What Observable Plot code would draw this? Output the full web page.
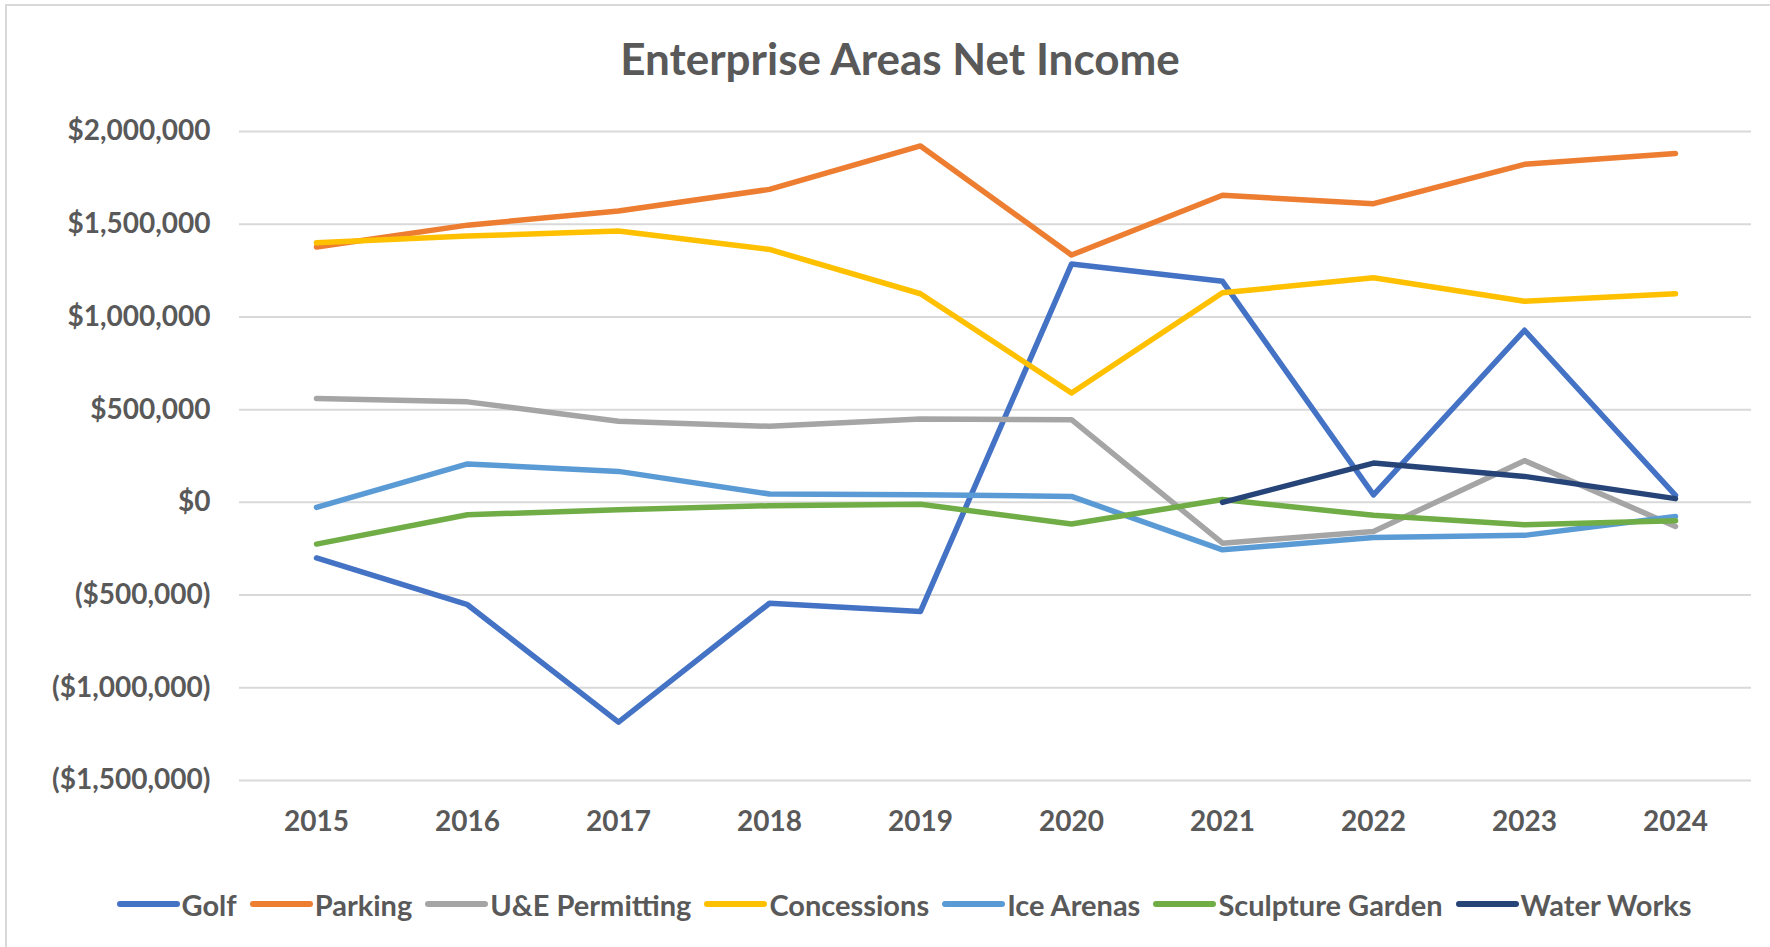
<!DOCTYPE html>
<html>
<head>
<meta charset="utf-8">
<script src="https://cdn.jsdelivr.net/npm/d3@7"></script>
<script src="https://cdn.jsdelivr.net/npm/@observablehq/plot@0.6"></script>
<style>
  html, body { margin:0; padding:0; background:#fff; width:1770px; height:947px; overflow:hidden; }
  body { position:relative; font-family: Lato, "Open Sans", sans-serif; color:#595959; }
  #frame { position:absolute; left:5px; top:4px; width:1800px; height:960px; border:2px solid #d9d9d9; box-sizing:border-box; }
  #title { position:absolute; left:0; top:34px; width:1800px; text-align:center; font-size:44px; font-weight:bold; line-height:48px; }
  #chart { position:absolute; left:0; top:100px; }
  #legend { position:absolute; left:0; top:888px; width:1808px; height:32px; display:flex; justify-content:center; align-items:center; font-size:29px; font-weight:bold; }
  .item { display:flex; align-items:center; margin-right:13px; }
  .item:last-child { margin-right:0; }
  .sw { width:63px; height:6px; border-radius:3px; margin-right:2px; }
</style>
</head>
<body>
<div id="frame"></div>
<div id="title">Enterprise Areas Net Income</div>
<div id="chart"></div>
<div id="legend"></div>
<script>
const years = ["2015","2016","2017","2018","2019","2020","2021","2022","2023","2024"];
const seriesNames = ["Golf","Parking","U&E Permitting","Concessions","Ice Arenas","Sculpture Garden","Water Works"];
const seriesColors = ["#4472C4","#ED7D31","#A5A5A5","#FFC000","#5B9BD5","#70AD47","#264478"];
const golf = [-300000, -552000, -1185000, -544000, -588000, 1285000, 1192000, 40000, 928000, 38000];
const parking = [1377000, 1495000, 1571000, 1688000, 1922000, 1334000, 1656000, 1611000, 1823000, 1881000];
const uePermitting = [560000, 542000, 437000, 410000, 450000, 446000, -220000, -157000, 225000, -130000];
const concessions = [1400000, 1436000, 1463000, 1364000, 1125000, 590000, 1130000, 1211000, 1085000, 1125000];
const iceArenas = [-27000, 207000, 167000, 45000, 41000, 32000, -256000, -189000, -178000, -76000];
const sculptureGarden = [-225000, -67000, -40000, -18000, -10000, -117000, 15000, -70000, -121000, -99000];
const waterWorks = [null, null, null, null, null, null, 0, 212000, 140000, 20000];
const yTicks = [-1500000, -1000000, -500000, 0, 500000, 1000000, 1500000, 2000000];

const seriesValues = [golf, parking, uePermitting, concessions, iceArenas, sculptureGarden, waterWorks];
const rows = [];
seriesNames.forEach((name, i) => {
  seriesValues[i].forEach((v, j) => {
    if (v !== null) rows.push({series: name, year: years[j], value: v});
  });
});

const fmtNum = d3.format(",.0f");
const fmt = v => v < 0 ? `($${fmtNum(-v)})` : `$${fmtNum(v)}`;

const chart = Plot.plot({
  width: 1770,
  height: 750,
  marginTop: 31,
  marginBottom: 70,
  marginLeft: 239,
  marginRight: 19,
  style: {fontFamily: "Lato, 'Open Sans', sans-serif", fontWeight: "bold", fontSize: "28px", color: "#595959", background: "transparent"},
  x: {type: "point", domain: years, padding: 0.5, label: null},
  y: {domain: [-1500000, 2000000], label: null},
  color: {domain: seriesNames, range: seriesColors},
  marks: [
    Plot.gridY(yTicks, {stroke: "#d9d9d9", strokeWidth: 2, strokeOpacity: 1}),
    Plot.axisY(yTicks, {tickSize: 0, tickPadding: 29, tickFormat: fmt, label: null}),
    Plot.axisX({tickSize: 0, tickPadding: 31, label: null}),
    Plot.line(rows, {x: "year", y: "value", z: "series", stroke: "series", strokeWidth: 5.5, strokeLinecap: "round", strokeLinejoin: "round"})
  ]
});
document.getElementById("chart").appendChild(chart);

const legend = document.getElementById("legend");
seriesNames.forEach((name, i) => {
  const item = document.createElement("div");
  item.className = "item";
  const sw = document.createElement("div");
  sw.className = "sw";
  sw.style.background = seriesColors[i];
  const label = document.createElement("span");
  label.textContent = name;
  item.appendChild(sw);
  item.appendChild(label);
  legend.appendChild(item);
});
</script>
</body>
</html>
